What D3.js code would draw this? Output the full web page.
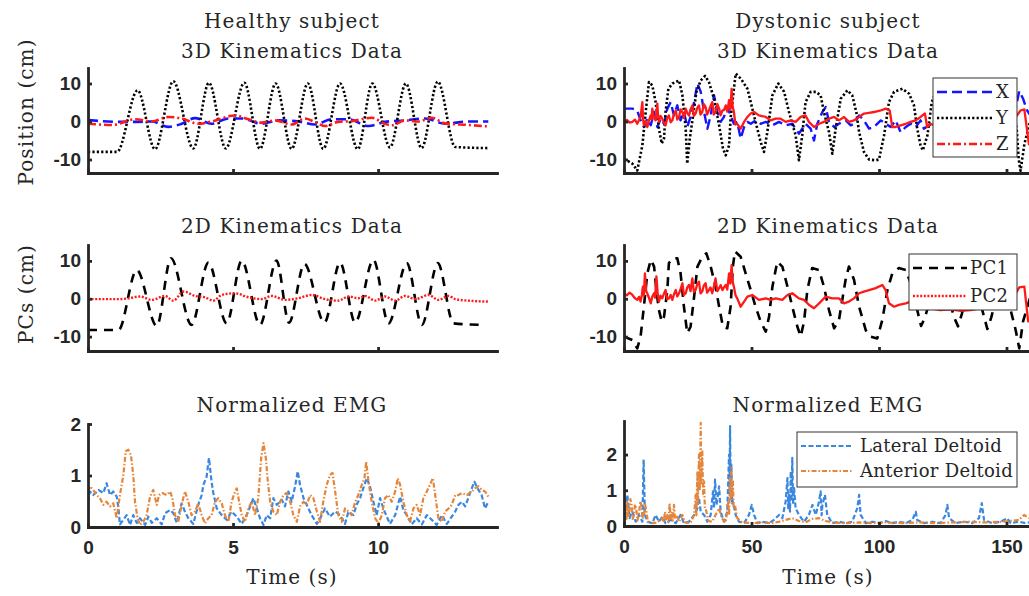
<!DOCTYPE html>
<html>
<head>
<meta charset="utf-8">
<script src="https://cdn.jsdelivr.net/npm/d3@7"></script>
<style>
  body { margin: 0; background: #fff; }
  svg { display: block; }
  .lbl { font-family: 'DejaVu Serif', serif; font-size: 20px; letter-spacing: 1.1px; fill: #262626; }
  .leg { font-family: 'DejaVu Serif', serif; font-size: 18px; letter-spacing: 0.3px; fill: #262626; }
  .tick text { font-family: 'Liberation Sans', Arial, sans-serif; font-weight: bold; font-size: 19px; fill: #262626; }
</style>
</head>
<body>
<svg id="chart" width="1029" height="596"></svg>
<script>
// tick values
const healthyTimeTicks = [0, 5, 10];
const dystonicTimeTicks = [0, 50, 100, 150];
const kinTicks = [-10, 0, 10];
const emgTicks = [0, 1, 2];

// legend labels
const kinLabels = ['X', 'Y', 'Z'];
const pcLabels = ['PC1', 'PC2'];
const emgLabels = ['Lateral Deltoid', 'Anterior Deltoid'];

// healthy subject, 3D kinematics [time s, cm]
const healthyX = [[0,0.4],[1.05,-0.1],[1.62,-0.1],[2.2,0.0],[2.77,-1.4],[3.23,-0.6],[3.69,0.9],[4.26,-0.6],[4.84,0.8],[5.3,0.8],[5.99,-0.6],[6.56,0.3],[7.25,0.0],[7.83,-0.8],[8.4,0.6],[8.98,0.6],[9.67,-1.2],[10.24,-0.1],[10.93,0.3],[11.62,0.8],[12.31,-0.6],[13.11,0.0],[13.8,0.0]];
const healthyY = [[0,-8.0],[1.0,-8.0],[1.71,8.2],[2.31,-7.3],[2.94,10.6],[3.63,-7.1],[4.17,10.2],[4.75,-7.1],[5.39,10.2],[5.93,-7.2],[6.47,10.0],[7.02,-7.2],[7.58,10.0],[8.11,-7.2],[8.69,10.0],[9.3,-7.3],[9.8,10.0],[10.41,-6.8],[10.96,10.0],[11.5,-7.0],[12.06,10.5],[12.66,-6.7],[13.8,-7.0]];
const healthyZ = [[0,-0.6],[0.85,-0.9],[1.62,0.6],[2.2,0.0],[2.77,1.2],[3.23,0.8],[3.8,-0.6],[4.26,0.0],[5.06,1.6],[5.53,0.6],[5.99,-0.3],[6.45,0.3],[7.02,-0.8],[7.48,0.8],[7.94,-0.6],[8.17,-1.2],[8.63,-0.1],[9.09,0.1],[9.78,1.0],[10.24,-0.6],[10.47,-1.0],[10.93,0.3],[11.39,0.0],[11.85,1.0],[12.31,-0.5],[13.11,-0.9],[13.8,-1.3]];

// healthy subject, principal components
const healthyPC1 = [[0,-8.25],[1.05,-8.25],[1.68,7.6],[2.37,-7.2],[2.86,10.7],[3.57,-6.9],[4.15,9.55],[4.78,-6.5],[5.3,10.1],[5.93,-6.9],[6.5,10.1],[6.93,-6.3],[7.46,9.2],[8.15,-6.3],[8.69,9.55],[9.21,-6.3],[9.84,10.3],[10.36,-6.5],[10.99,9.4],[11.51,-6.9],[12.06,9.4],[12.6,-6.5],[13.6,-6.9]];
const healthyPC2 = [[0,-0.1],[1.05,-0.1],[1.39,0.1],[1.79,0.6],[2.2,-0.3],[2.66,0.75],[2.94,-0.5],[3.29,1.9],[3.69,0.75],[4.03,0.4],[4.32,-0.5],[4.61,1.0],[5.06,1.45],[5.53,0.4],[5.99,-0.1],[6.33,0.75],[6.79,-0.3],[7.25,0.15],[7.71,1.0],[8.17,-0.1],[8.63,-0.5],[8.98,0.6],[9.32,0.15],[9.55,0.75],[9.9,-0.5],[10.24,0.6],[10.59,-0.5],[10.93,0.75],[11.28,-0.1],[11.74,1.0],[12.08,-0.3],[12.43,0.75],[12.66,-0.1],[13.11,-0.5],[13.8,-0.75]];

// healthy subject, normalized EMG
const healthyLateral = [[0,0.49],[0.07,0.69],[0.18,0.62],[0.36,0.72],[0.53,0.66],[0.64,0.85],[0.76,0.62],[0.87,0.69],[0.99,0.59],[1.05,0.36],[1.1,0.05],[1.22,0.14],[1.33,0.23],[1.45,0.04],[1.56,0.23],[1.68,0.08],[1.79,0.17],[1.97,0.04],[2.08,0.2],[2.2,0.08],[2.37,0.17],[2.54,0.05],[2.66,0.27],[2.83,0.33],[2.94,0.27],[3.06,0.08],[3.23,0.46],[3.34,0.3],[3.46,0.17],[3.63,0.06],[3.8,0.43],[3.92,0.62],[3.98,0.82],[4.09,0.98],[4.17,1.34],[4.26,0.88],[4.32,0.66],[4.44,0.36],[4.61,0.23],[4.78,0.14],[4.95,0.3],[5.13,0.2],[5.3,0.06],[5.47,0.23],[5.59,0.4],[5.7,0.56],[5.82,0.36],[5.93,0.17],[6.05,0.04],[6.16,0.23],[6.28,0.17],[6.39,0.56],[6.51,0.43],[6.68,0.53],[6.79,0.4],[6.91,0.69],[7.02,0.49],[7.14,0.79],[7.23,1.08],[7.31,0.82],[7.43,0.56],[7.54,0.43],[7.71,0.23],[7.89,0.06],[8.06,0.23],[8.17,0.36],[8.34,0.2],[8.52,0.3],[8.69,0.23],[8.86,0.06],[8.98,0.3],[9.15,0.23],[9.26,0.43],[9.38,0.56],[9.49,0.75],[9.61,0.95],[9.72,0.79],[9.84,0.49],[9.95,0.23],[10.07,0.56],[10.18,0.36],[10.3,0.2],[10.41,0.06],[10.59,0.23],[10.76,0.59],[10.87,0.33],[10.99,0.23],[11.16,0.05],[11.33,0.17],[11.51,0.05],[11.68,0.23],[11.85,0.14],[12.02,0.04],[12.2,0.23],[12.37,0.06],[12.54,0.2],[12.66,0.3],[12.77,0.43],[12.89,0.49],[13.0,0.4],[13.11,0.56],[13.23,0.75],[13.32,0.88],[13.46,0.72],[13.57,0.62],[13.69,0.36],[13.8,0.49]];
const healthyAnterior = [[0,0.69],[0.07,0.79],[0.18,0.72],[0.3,0.62],[0.41,0.56],[0.53,0.43],[0.64,0.49],[0.76,0.4],[0.87,0.46],[0.99,0.17],[1.1,0.62],[1.22,1.01],[1.3,1.47],[1.39,1.5],[1.48,1.4],[1.56,1.01],[1.62,0.49],[1.71,0.17],[1.79,0.04],[1.91,0.1],[2.02,0.23],[2.14,0.59],[2.25,0.72],[2.37,0.43],[2.45,0.62],[2.56,0.66],[2.71,0.62],[2.83,0.69],[2.91,0.56],[3.0,0.23],[3.11,0.1],[3.23,0.43],[3.34,0.69],[3.46,0.49],[3.57,0.23],[3.69,0.3],[3.8,0.46],[3.92,0.23],[4.03,0.07],[4.15,0.17],[4.26,0.23],[4.38,0.49],[4.49,0.56],[4.61,0.46],[4.72,0.23],[4.84,0.1],[4.95,0.49],[5.07,0.69],[5.13,0.75],[5.21,0.49],[5.3,0.23],[5.41,0.1],[5.53,0.36],[5.64,0.49],[5.76,0.23],[5.87,0.56],[5.97,1.34],[6.05,1.63],[6.13,1.34],[6.2,0.88],[6.28,0.49],[6.39,0.3],[6.51,0.23],[6.62,0.49],[6.74,0.62],[6.85,0.66],[6.97,0.49],[7.08,0.23],[7.2,0.1],[7.31,0.4],[7.43,0.49],[7.54,0.43],[7.66,0.62],[7.77,0.56],[7.89,0.3],[8.0,0.1],[8.11,0.49],[8.23,0.82],[8.34,1.01],[8.43,1.05],[8.52,0.69],[8.63,0.23],[8.75,0.1],[8.86,0.36],[8.98,0.3],[9.09,0.23],[9.21,0.49],[9.32,0.62],[9.44,0.82],[9.53,0.95],[9.59,1.27],[9.67,0.88],[9.78,0.49],[9.9,0.17],[10.01,0.07],[10.13,0.23],[10.24,0.56],[10.36,0.62],[10.47,0.49],[10.59,0.69],[10.68,0.95],[10.76,0.82],[10.87,0.49],[10.99,0.23],[11.1,0.1],[11.22,0.36],[11.33,0.43],[11.45,0.23],[11.56,0.56],[11.68,0.69],[11.79,0.82],[11.89,0.95],[11.97,0.62],[12.08,0.17],[12.2,0.1],[12.31,0.3],[12.43,0.36],[12.54,0.43],[12.66,0.62],[12.77,0.62],[12.89,0.66],[13.06,0.62],[13.23,0.69],[13.34,0.75],[13.46,0.79],[13.57,0.72],[13.69,0.69],[13.8,0.59]];

// dystonic subject, 3D kinematics
const dystonicX = [[0,3.4],[3.3,3.4],[5.2,2.9],[6.5,0.3],[7.8,-1.45],[9.15,0.75],[10.5,-1.0],[11.8,2.5],[13.1,-1.45],[14.4,0.75],[15.7,-0.6],[17.0,3.4],[18.3,5.1],[19.6,1.6],[20.9,4.25],[22.2,0.3],[23.5,2.5],[24.8,-1.45],[26.1,1.2],[27.5,5.1],[28.8,10.0],[30.1,7.8],[31.4,2.5],[32.7,-1.9],[34.0,1.6],[35.3,6.9],[36.6,2.5],[37.9,-0.1],[39.2,1.2],[40.5,3.8],[41.8,1.6],[43.1,-0.6],[44.4,-0.1],[45.75,-4.5],[47.1,-1.45],[48.4,-0.1],[49.7,-0.6],[51.6,0.3],[53.6,-0.6],[55.6,-0.1],[58.2,-1.0],[60.8,-0.1],[63.4,-1.0],[66.0,-0.6],[67.3,-1.9],[68.6,-3.2],[69.9,-1.9],[71.2,-0.6],[73.2,-1.9],[74.5,-5.0],[75.8,-0.6],[77.8,2.5],[79.1,3.8],[80.4,-0.1],[82.4,-1.45],[84.3,-0.6],[87.0,0.3],[88.9,-1.0],[90.2,-0.6],[92.2,1.6],[94.1,0.3],[96.1,-1.9],[98.0,-1.45],[100.7,0.3],[102.6,-0.6],[104.6,-1.45],[106.5,0.3],[108.5,-2.8],[110.5,-1.45],[112.4,-0.6],[114.4,-1.45],[116.3,0.3],[117.6,-1.9],[119.6,-1.0],[120.9,-0.6],[125,0.5],[130,-1.0],[135,0.8],[140,-0.5],[145,1.0],[150,-0.8],[153,1.5],[155,8.0],[156.5,6.0],[158,3.0],[160,1.0]];
const dystonicY = [[0,-9.8],[3.3,-11.1],[5.2,-12.9],[7.2,-6.3],[8.5,2.5],[9.8,10.4],[11.1,9.5],[12.4,5.1],[13.7,-1.9],[14.8,-5.8],[15.7,-4.5],[16.3,2.5],[17.4,8.6],[19.0,10.0],[20.3,10.4],[21.6,10.8],[22.9,6.9],[24.2,-1.9],[24.8,-11.1],[25.8,-4.5],[27.1,1.6],[28.4,7.8],[30.1,10.8],[31.8,12.0],[33.3,10.4],[35.3,6.0],[37.3,-1.0],[38.8,-7.1],[39.9,-8.9],[41.2,-6.3],[41.8,0.8],[43.1,8.6],[43.8,12.6],[45.8,11.3],[48.4,8.6],[49.7,5.1],[51.6,-0.1],[53.6,-5.4],[54.9,-8.0],[56.2,-2.8],[58.2,6.9],[60.5,10.0],[62.8,7.8],[64.7,2.5],[67.3,-3.6],[68.6,-10.2],[69.9,-3.6],[71.2,5.1],[73.2,7.8],[75.2,7.8],[77.1,6.9],[78.4,2.5],[80.4,-2.8],[81.7,-8.5],[83.0,-1.9],[85.0,6.0],[87.6,8.2],[89.5,6.9],[91.1,2.5],[92.2,-2.8],[94.1,-8.0],[96.1,-10.0],[98.7,-10.2],[100,-10.0],[102,-3.6],[103.9,5.1],[105.9,7.8],[109.2,8.6],[111.8,7.3],[113.7,4.3],[115,-1.9],[116.3,-6.3],[117.2,-7.6],[119,-3.6],[120.7,5.1],[123,9.0],[126,6.0],[129,-6.0],[131,-8.0],[134,2.0],[137,8.0],[140,5.0],[143,-7.0],[146,-8.0],[149,3.0],[152,6.0],[154,-2.0],[154.8,-10.0],[155.5,-13.0],[157,-6.0],[160,2.0]];
const dystonicZ = [[0,-0.1],[1.2,0.4],[2.2,-0.3],[3.3,-0.1],[4.3,0.5],[5.2,-0.6],[5.9,0.4],[6.5,1.2],[7.2,5.1],[7.5,0.5],[7.8,-1.0],[8.5,0.2],[9.15,-1.45],[9.8,0.3],[10.46,1.6],[10.8,0.6],[11.1,3.4],[11.7,1.0],[12.4,0.3],[13.07,4.7],[13.4,1.2],[13.7,-0.1],[14.3,1.5],[15.0,0.75],[15.6,-0.2],[16.3,-1.0],[16.9,0.8],[17.6,1.6],[18.3,-0.2],[18.95,0.3],[19.6,2.0],[20.3,2.9],[20.9,0.5],[21.6,1.2],[22.2,3.2],[22.9,2.5],[23.5,1.0],[24.2,3.4],[24.8,2.2],[25.5,1.6],[26.1,3.2],[26.8,4.25],[27.4,1.5],[28.1,2.1],[28.7,3.5],[29.4,4.25],[30.0,1.8],[30.7,2.5],[31.3,4.6],[32.0,3.8],[32.6,1.8],[33.3,2.9],[33.9,4.0],[34.6,5.1],[35.2,1.8],[35.9,2.5],[36.6,4.6],[37.3,3.4],[37.9,1.6],[38.6,2.9],[39.2,3.0],[39.9,4.25],[40.5,2.6],[41.2,5.6],[41.7,3.2],[42.2,8.6],[42.6,4.0],[43.1,2.5],[43.7,-0.8],[44.4,-0.6],[45.75,-1.9],[47.1,-0.1],[48.4,1.2],[49.7,2.1],[51.0,2.5],[52.9,1.6],[55.6,1.2],[57.5,0.3],[59.5,0.75],[61.4,0.75],[63.4,-0.1],[65.4,0.3],[67.3,-0.1],[69.3,1.2],[71.2,1.6],[72.5,-0.1],[74.5,-1.45],[76.5,-0.6],[78.4,-0.1],[80.4,0.75],[82.4,1.2],[84.3,0.3],[86.3,1.2],[88.2,-0.1],[90.2,0.3],[92.2,1.2],[94.1,2.1],[96.1,2.3],[98.0,2.5],[100.7,2.9],[102.6,3.4],[104.2,2.9],[105.2,-1.45],[106.5,-1.45],[108.5,-1.0],[110.5,-0.6],[112.4,-0.1],[114.4,0.3],[116.3,1.2],[118.0,2.1],[118.9,-1.45],[120.2,-0.6],[121.6,-1.0],[126,0.5],[131,-0.5],[136,1.0],[141,0.0],[146,1.5],[151,0.5],[154,1.5],[155.5,2.9],[157,3.2],[158.8,-6.0],[160,-5.0]];

// dystonic subject, principal components
const dystonicPC1 = [[0,-10.0],[3.3,-10.9],[5.2,-13.1],[6.5,-10.0],[7.8,-2.1],[9.15,6.7],[10.5,10.3],[11.8,8.5],[12.7,2.3],[13.7,-3.0],[14.8,-6.05],[15.7,-4.7],[17.0,2.3],[17.6,9.4],[19.0,10.7],[20.9,10.7],[22.2,6.7],[23.5,-2.1],[24.8,-9.1],[26.1,-7.4],[27.5,0.56],[28.8,8.5],[30.7,11.1],[32.3,12.0],[34.0,8.5],[35.9,3.2],[37.3,-2.1],[38.8,-7.4],[40.5,-7.8],[41.8,-2.1],[42.7,8.5],[43.5,12.5],[45.75,11.1],[47.7,6.7],[49.7,2.3],[51.6,-2.1],[53.6,-6.05],[55.6,-8.7],[56.9,-4.7],[58.2,3.2],[60.1,9.8],[62.1,8.5],[64.1,3.2],[66.0,-2.1],[68.0,-7.4],[69.3,-10.0],[70.6,-6.05],[71.9,2.3],[73.8,8.1],[76.5,7.6],[78.4,3.2],[80.4,-3.0],[82.4,-7.8],[84.3,-5.6],[86.9,5.0],[88.2,8.5],[90.2,5.0],[92.2,-2.1],[94.8,-8.3],[96.7,-10.0],[99.3,-10.5],[101.3,-5.6],[103.3,2.3],[105.2,6.7],[107.8,8.1],[110.5,7.6],[113,3.0],[115,-3.0],[116.5,-7.2],[118,-5.0],[121,2.0],[124,5.0],[127,1.0],[129.5,-5.0],[131,-7.3],[132.5,-4.0],[135,3.0],[138,4.0],[140.5,-3.0],[142.5,-8.0],[144,-5.0],[147,3.0],[150,2.0],[152,-4.0],[153.5,-8.0],[155,-13.1],[156.5,-6.0],[160,2.0]];
const dystonicPC2 = [[0,1.45],[1.1,0.9],[2.2,1.6],[3.3,1.0],[4.2,0.2],[5.2,-0.3],[5.9,0.5],[6.5,-0.75],[7.0,1.0],[7.4,3.2],[7.8,0.8],[8.2,6.7],[8.7,2.0],[9.15,1.45],[9.8,0.2],[10.5,-1.2],[11.1,0.6],[11.8,1.45],[12.2,0.3],[12.7,5.9],[13.2,1.5],[13.7,-0.75],[14.3,0.8],[15.0,0.1],[15.6,1.2],[16.3,2.3],[16.9,-0.1],[17.6,0.1],[18.3,1.0],[18.95,-0.3],[19.6,1.2],[20.3,2.3],[20.9,0.6],[21.6,1.45],[22.2,2.6],[22.9,4.1],[23.5,1.0],[24.2,1.45],[24.8,3.0],[25.5,3.65],[26.1,2.0],[26.8,5.4],[27.4,1.8],[28.1,2.3],[28.7,3.8],[29.4,4.5],[30.0,1.4],[30.7,1.9],[31.3,3.5],[32.0,4.1],[32.6,1.6],[33.3,2.3],[33.9,3.0],[34.6,1.45],[35.2,3.0],[35.9,5.4],[36.6,2.0],[37.3,2.8],[37.9,3.6],[38.6,2.3],[39.2,3.0],[39.9,3.65],[40.5,2.4],[41.2,6.7],[41.7,4.0],[42.2,8.9],[42.6,4.5],[43.1,3.2],[43.7,1.0],[44.4,0.1],[45.75,-2.1],[47.1,-0.75],[48.4,0.56],[50.3,1.0],[52.9,-0.3],[55.6,0.1],[57.5,-0.3],[59.5,0.1],[62.1,-0.3],[64.1,1.0],[66.0,1.45],[68.6,0.1],[70.6,-0.3],[72.5,-1.6],[74.5,-2.5],[76.5,-1.2],[79.1,0.56],[81.7,0.1],[84.3,0.1],[86.3,-1.2],[88.2,-0.75],[90.2,0.1],[92.2,1.45],[94.1,1.9],[96.1,2.3],[98.7,2.8],[101.3,3.65],[102.6,2.3],[103.9,-1.2],[105.9,-2.1],[107.8,-1.6],[110.5,-1.2],[112.4,-0.75],[116,-2.0],[120,-2.5],[124,-3.0],[128,-2.8],[132,-3.2],[136,-3.0],[140,-2.5],[144,-2.0],[148,-1.5],[152,-0.5],[155,3.0],[157,3.2],[158.5,-6.0],[160,-5.0]];

// dystonic subject, normalized EMG
const dystonicLateral = [[0,0.78],[0.65,0.31],[1.3,0.87],[2.2,0.22],[3.3,0.4],[4.6,0.12],[5.9,0.31],[7.2,0.12],[7.7,1.86],[8.2,0.31],[9.2,0.12],[11.1,0.08],[12.4,0.31],[13.7,0.12],[15.0,0.26],[16.3,0.08],[18.3,0.17],[20.3,0.08],[22.2,0.31],[23.5,0.08],[25.5,0.12],[27.5,0.31],[28.8,0.5],[29.4,0.78],[30.1,0.4],[31.4,0.31],[32.7,0.12],[34.0,0.31],[34.9,0.97],[35.3,0.5],[35.7,1.3],[36.3,0.59],[37.3,1.11],[37.9,0.4],[39.2,0.12],[40.5,0.4],[41.2,2.0],[41.4,0.9],[41.6,2.8],[41.8,1.2],[42.1,1.72],[42.4,0.6],[42.7,0.69],[43.8,0.31],[45.1,0.12],[47.1,0.08],[49.0,0.31],[50.1,0.59],[51.0,0.31],[52.3,0.08],[54.2,0.12],[56.9,0.08],[58.8,0.17],[60.8,0.31],[62.1,0.22],[63.4,0.69],[64.1,1.34],[64.4,0.5],[64.7,0.87],[65.1,0.4],[65.4,1.53],[65.7,0.7],[66.0,1.91],[66.3,0.6],[66.7,1.06],[67.3,0.5],[68.6,0.31],[70.6,0.12],[72.5,0.31],[73.9,0.59],[75.2,0.31],[76.5,0.69],[77.1,0.97],[77.5,0.3],[77.8,0.59],[78.8,0.87],[79.7,0.31],[81.7,0.08],[84.3,0.12],[86.9,0.08],[89.5,0.12],[91.5,0.5],[92.2,0.87],[92.8,0.31],[94.8,0.08],[97.4,0.12],[100.0,0.08],[102.6,0.14],[105.2,0.08],[107.8,0.12],[110.5,0.08],[113.1,0.17],[114.4,0.4],[115.0,0.17],[117.6,0.08],[120.9,0.12],[124.2,0.08],[126.1,0.31],[126.8,0.59],[127.5,0.22],[130.1,0.08],[133.3,0.12],[136.6,0.08],[139.2,0.22],[140.3,0.64],[141.2,0.17],[144.4,0.08],[147.7,0.12],[150.3,0.22],[151.6,0.08],[154.9,0.12],[157.5,0.08],[160.1,0.12]];
const dystonicAnterior = [[0,0.97],[0.3,0.4],[0.65,0.5],[1.0,0.2],[1.3,0.69],[1.6,0.25],[2.0,0.31],[2.5,0.75],[3.0,0.59],[3.4,0.2],[3.9,0.31],[4.3,0.6],[4.8,0.5],[5.3,0.15],[5.9,0.36],[6.4,0.7],[6.9,0.54],[7.3,0.2],[7.8,0.31],[8.3,0.6],[8.8,0.4],[9.3,0.15],[9.8,0.12],[11.1,0.08],[13.1,0.1],[15.0,0.22],[15.5,0.1],[16.1,0.4],[16.5,0.15],[17.0,0.31],[17.4,0.1],[17.9,0.64],[18.3,0.2],[18.7,0.4],[19.1,0.15],[19.6,0.59],[20.0,0.2],[20.5,0.31],[21.6,0.12],[22.9,0.31],[23.9,0.1],[26.1,0.08],[27.5,0.31],[28.1,0.87],[28.4,0.3],[28.8,1.53],[29.0,0.6],[29.4,2.0],[29.7,1.0],[30.1,2.89],[30.3,1.2],[30.7,2.09],[31.0,0.9],[31.4,1.25],[31.7,0.5],[32.0,0.5],[33.1,0.14],[34.6,0.12],[35.9,0.31],[37.3,0.5],[38.3,0.22],[39.9,0.1],[40.9,0.69],[41.2,0.3],[41.6,1.34],[41.8,0.7],[42.1,1.62],[42.4,0.8],[42.7,1.25],[43.0,0.5],[43.5,0.59],[44.4,0.22],[46.4,0.1],[50.3,0.08],[54.2,0.1],[58.2,0.08],[60.8,0.12],[63.4,0.17],[66.0,0.22],[68.6,0.14],[71.2,0.1],[73.9,0.2],[76.5,0.22],[79.1,0.14],[81.7,0.1],[86.9,0.08],[92.2,0.1],[97.4,0.08],[102.6,0.1],[109.2,0.08],[115.7,0.1],[122.2,0.08],[128.8,0.1],[135.3,0.12],[141.8,0.1],[148.4,0.12],[154.9,0.17],[156.9,0.31],[158.8,0.22]];

const AX = '#262626';
const BLUE = '#1414ff', RED = '#ff1a1a', BLACK = '#000';
const EMG_BLUE = '#3a87e0', EMG_ORANGE = '#e5863a';

const sty = {
  X: { color: BLUE, dash: '10,5', width: 2.6 },
  Y: { color: BLACK, dash: '2.2,2.2', width: 2.6 },
  Z: { color: RED, dash: '8,3,2,3', width: 2.6 },
  PC1: { color: BLACK, dash: '9,7', width: 2.6 },
  PC2: { color: RED, dash: '2,1.6', width: 2.4 },
  LD: { color: EMG_BLUE, dash: '5,2.5', width: 2.2 },
  AD: { color: EMG_ORANGE, dash: '5,2,1.5,2', width: 2.2 }
};

const left = { x0: 88, x1: 497, dom: [0, 14.1], ticks: healthyTimeTicks };
const right = { x0: 624, x1: 1032, dom: [0, 160], ticks: dystonicTimeTicks };

const panels = [
  { col: left, y0: 68, y1: 173, yDom: [-13.55, 14.08], yTicks: kinTicks, curve: d3.curveMonotoneX,
    series: [[healthyX, sty.X], [healthyY, sty.Y], [healthyZ, sty.Z]] },
  { col: right, y0: 68, y1: 173, yDom: [-13.55, 14.08], yTicks: kinTicks, curve: d3.curveLinear,
    series: [[dystonicX, {...sty.X, width: 2.4}], [dystonicY, sty.Y], [dystonicZ, { color: RED, width: 2.3 }]] },
  { col: left, y0: 245, y1: 351, yDom: [-13.8, 14.2], yTicks: kinTicks, curve: d3.curveMonotoneX,
    series: [[healthyPC1, sty.PC1], [healthyPC2, sty.PC2]] },
  { col: right, y0: 245, y1: 351, yDom: [-13.8, 14.2], yTicks: kinTicks, curve: d3.curveLinear,
    series: [[dystonicPC1, sty.PC1], [dystonicPC2, { color: RED, width: 2.3 }]] },
  { col: left, y0: 424, y1: 527, yDom: [0, 2], yTicks: emgTicks, curve: d3.curveLinear, showX: true,
    series: [[healthyLateral, sty.LD], [healthyAnterior, sty.AD]] },
  { col: right, y0: 421, y1: 526, yDom: [0, 2.94], yTicks: emgTicks, curve: d3.curveLinear, showX: true,
    series: [[dystonicLateral, sty.LD], [dystonicAnterior, sty.AD]] }
];

const svg = d3.select('#chart');
const defs = svg.append('defs');

panels.forEach((p, i) => {
  const x = d3.scaleLinear().domain(p.col.dom).range([p.col.x0, p.col.x1]);
  const y = d3.scaleLinear().domain(p.yDom).range([p.y1, p.y0]);

  defs.append('clipPath').attr('id', 'clip' + i)
    .append('rect')
    .attr('x', p.col.x0).attr('y', p.y0)
    .attr('width', p.col.x1 - p.col.x0).attr('height', p.y1 - p.y0);

  const line = d3.line().x(d => x(d[0])).y(d => y(d[1])).curve(p.curve);
  const g = svg.append('g').attr('clip-path', `url(#clip${i})`);
  p.series.forEach(([data, s]) => {
    g.append('path')
      .datum(data)
      .attr('d', line)
      .attr('fill', 'none')
      .attr('stroke', s.color)
      .attr('stroke-width', s.width)
      .attr('stroke-dasharray', s.dash || null)
      .attr('stroke-linejoin', 'round');
  });

  const xAxis = svg.append('g')
    .attr('transform', `translate(0,${p.y1})`)
    .call(d3.axisBottom(x).tickValues(p.col.ticks).tickSizeInner(-4).tickSizeOuter(0)
      .tickPadding(14).tickFormat(p.showX ? d => String(d) : () => ''));
  const yAxis = svg.append('g')
    .attr('transform', `translate(${p.col.x0},0)`)
    .call(d3.axisLeft(y).tickValues(p.yTicks).tickSizeInner(-4).tickSizeOuter(0)
      .tickPadding(7).tickFormat(d => String(d)));

  [xAxis, yAxis].forEach(a => {
    a.select('.domain').attr('stroke', AX).attr('stroke-width', 2.8).attr('stroke-linecap', 'square');
    a.selectAll('.tick line').attr('stroke', AX).attr('stroke-width', 2.8);
  });
  xAxis.selectAll('.tick text').attr('dy', '0.71em');
});

// titles and axis labels
const texts = [
  ['Healthy subject', 292, 28], ['3D Kinematics Data', 292, 58],
  ['Dystonic subject', 828, 28], ['3D Kinematics Data', 828, 58],
  ['2D Kinematics Data', 292, 233], ['2D Kinematics Data', 828, 233],
  ['Normalized EMG', 292, 412], ['Normalized EMG', 828, 412],
  ['Time (s)', 292, 584], ['Time (s)', 828, 584]
];
svg.selectAll('text.t').data(texts).enter().append('text')
  .attr('class', 'lbl t')
  .attr('x', d => d[1]).attr('y', d => d[2])
  .attr('text-anchor', 'middle')
  .text(d => d[0]);

[['Position (cm)', 112], ['PCs (cm)', 294]].forEach(([t, cy]) => {
  svg.append('text').attr('class', 'lbl')
    .attr('transform', `translate(33,${cy}) rotate(-90)`)
    .attr('text-anchor', 'middle')
    .text(t);
});

// legends
function legend(x, y, w, h, rows, labels, styles, lineW, textX) {
  const g = svg.append('g');
  g.append('rect').attr('x', x).attr('y', y).attr('width', w).attr('height', h)
    .attr('fill', '#fff').attr('stroke', '#333').attr('stroke-width', 1);
  labels.forEach((lab, i) => {
    const s = styles[i];
    g.append('line')
      .attr('x1', x + 4).attr('x2', x + 4 + lineW)
      .attr('y1', rows[i]).attr('y2', rows[i])
      .attr('stroke', s.color).attr('stroke-width', s.width)
      .attr('stroke-dasharray', s.dash || null);
    g.append('text').attr('class', 'leg')
      .attr('x', textX).attr('y', rows[i]).attr('dy', '0.36em')
      .text(lab);
  });
}
legend(933, 78, 84, 79, [92, 118, 144], kinLabels, [sty.X, sty.Y, sty.Z], 55, 996);
legend(909, 254, 108, 56, [268, 296], pcLabels, [sty.PC1, sty.PC2], 54, 970);
legend(797, 432, 220, 55, [446, 471], emgLabels, [sty.LD, sty.AD], 52, 860);
</script>
</body>
</html>
